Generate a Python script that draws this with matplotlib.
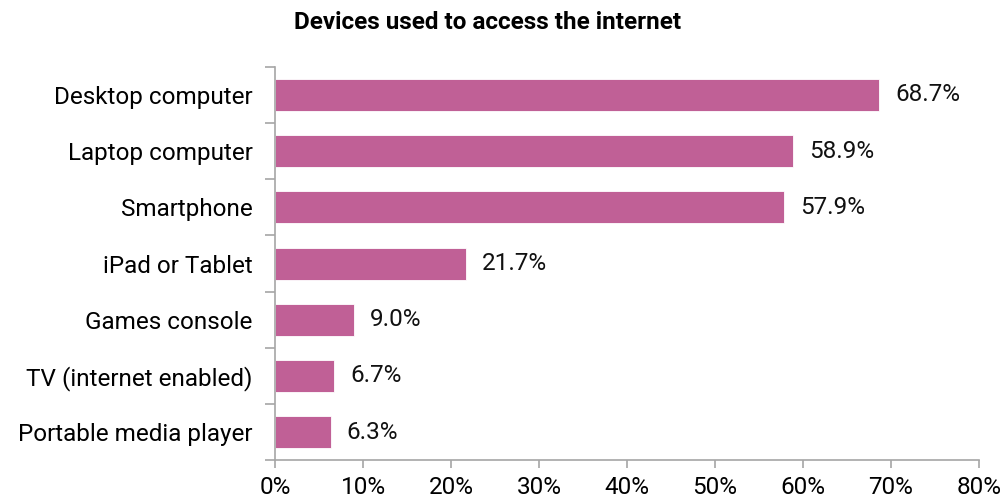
import matplotlib.pyplot as plt

plt.rcParams['font.family'] = ['Roboto', 'DejaVu Sans']

# Dados do gráfico
dispositivos = ["Desktop computer", "Laptop computer", "Smartphone", "iPad or Tablet",
                "Games console", "TV (internet enabled)", "Portable media player"]
percentuais = [68.7, 58.9, 57.9, 21.7, 9.0, 6.7, 6.3]
ticks_x = [0, 10, 20, 30, 40, 50, 60, 70, 80]

cor_barra = "#C06096"
cor_eixo = "#A6A6A6"
tam = 17.5

fig = plt.figure(figsize=(10.04, 5.03), dpi=100)
ax = fig.add_axes([0.274, 0.085, 0.701, 0.782])

pos = list(range(len(dispositivos)))
ax.barh(pos, percentuais, height=0.57, color=cor_barra, edgecolor="white", linewidth=0.6)

# Rótulos de valor
for y, v in zip(pos, percentuais):
    ax.text(v + 1.8, y, f"{v:.1f}%", va="center", ha="left", fontsize=tam, color="#111111")

ax.set_ylim(len(dispositivos) - 0.5, -0.5)
ax.set_xlim(0, 80)
ax.set_xticks(ticks_x)
ax.set_xticklabels([f"{t}%" for t in ticks_x], fontsize=tam)

# Marcas do eixo y entre as categorias
ax.set_yticks([p + 0.5 for p in [-1] + pos])
ax.set_yticklabels([])
ax.set_yticks(pos, minor=True)
ax.set_yticklabels(dispositivos, minor=True, fontsize=tam)
ax.tick_params(axis="y", which="minor", length=0, pad=16)
ax.tick_params(axis="y", which="major", length=7, color=cor_eixo, width=1.2)
ax.tick_params(axis="x", length=6, color=cor_eixo, width=1.2, pad=5)

for lado in ["top", "right"]:
    ax.spines[lado].set_visible(False)
for lado in ["left", "bottom"]:
    ax.spines[lado].set_color(cor_eixo)
    ax.spines[lado].set_linewidth(1.2)

fig.text(0.486, 0.955, "Devices used to access the internet", ha="center", va="center",
         fontsize=tam, fontweight="bold")

fig.savefig("out.png", dpi=100)
